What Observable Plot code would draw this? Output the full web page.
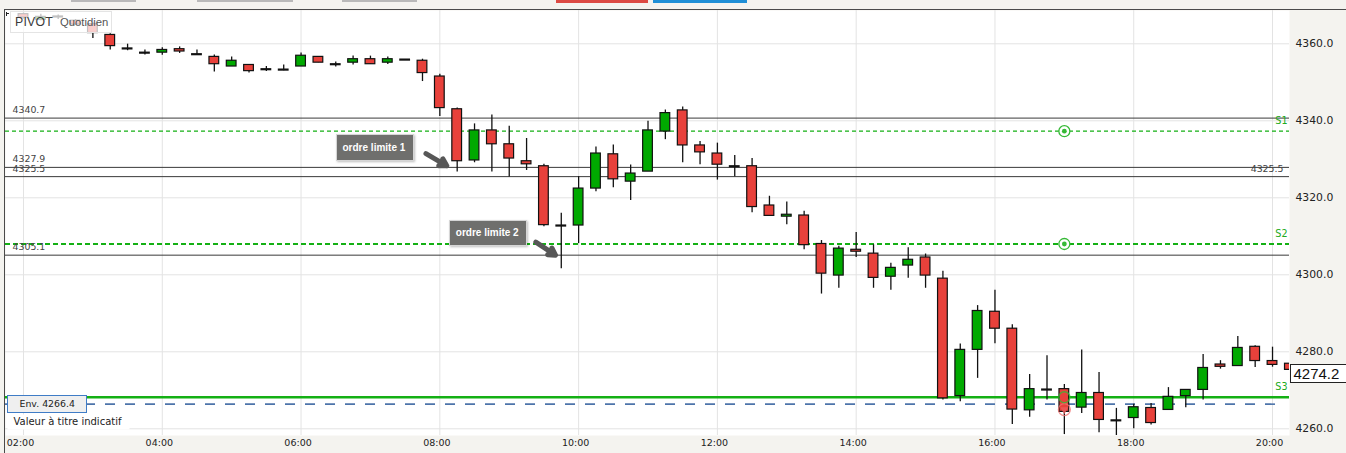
<!DOCTYPE html>
<html><head><meta charset="utf-8">
<script src="https://cdn.jsdelivr.net/npm/d3@7"></script>
<script src="https://cdn.jsdelivr.net/npm/@observablehq/plot@0.6"></script>
<style>
html,body{margin:0;padding:0;background:#f4f3ef;}
#wrap{position:relative;width:1346px;height:453px;overflow:hidden;background:#f4f3ef;}
#wrap svg{position:absolute;left:0;top:0;}
.bar{position:absolute;top:0;height:2px;background:#b9b9b9;}
.topline{position:absolute;left:4px;right:0;top:9px;height:1px;background:#4a4a4a;}
.leftline{position:absolute;left:4px;top:9px;bottom:0;width:1px;background:#4a4a4a;}
#legend{position:absolute;left:10px;top:11px;width:102px;height:22px;box-sizing:border-box;
  background:rgba(255,255,255,0.74);border:1px solid #e4e4e4;
  font-family:"Liberation Sans",Arial,sans-serif;line-height:20px;white-space:nowrap;}
#legend .p{position:absolute;left:4px;top:0;font-size:12.3px;color:#3a3a3a;letter-spacing:0.2px;}
#legend .q{position:absolute;left:49px;top:0;font-size:11.3px;color:#555;}
.flag{position:absolute;left:6px;top:12px;width:1px;height:4px;background:#222;}
.flag2{position:absolute;left:6px;top:13px;width:3px;height:1px;background:#222;}
</style></head>
<body>
<div id="wrap">
  <div class="bar" style="left:71px;width:65px"></div>
  <div class="bar" style="left:197px;width:96px"></div>
  <div class="bar" style="left:342px;width:75px"></div>
  <div class="bar" style="left:556px;width:92px;height:3px;background:#dc4a43"></div>
  <div class="bar" style="left:653px;width:94px;height:3px;background:#1f8fd6"></div>
</div>
<script>
// ---- data ----
const times = ["02:00","02:15","02:30","02:45","03:00","03:15","03:30","03:45",
"04:00","04:15","04:30","04:45","05:00","05:15","05:30","05:45",
"06:00","06:15","06:30","06:45","07:00","07:15","07:30","07:45",
"08:00","08:15","08:30","08:45","09:00","09:15","09:30","09:45",
"10:00","10:15","10:30","10:45","11:00","11:15","11:30","11:45",
"12:00","12:15","12:30","12:45","13:00","13:15","13:30","13:45",
"14:00","14:15","14:30","14:45","15:00","15:15","15:30","15:45",
"16:00","16:15","16:30","16:45","17:00","17:15","17:30","17:45",
"18:00","18:15","18:30","18:45","19:00","19:15","19:30","19:45",
"20:00","20:15"];
const opens = [4367.7,4366.2,4367.1,4366.0,4365.1,4362.3,4358.8,4357.7,
4357.7,4358.6,4357.3,4356.6,4354.1,4354.5,4353.4,4353.3,
4354.1,4356.6,4354.7,4355.1,4356.0,4355.1,4355.9,4355.6,
4351.5,4343.0,4329.7,4337.5,4333.9,4329.5,4328.2,4312.8,
4312.8,4322.4,4331.3,4324.2,4326.8,4337.2,4342.7,4333.6,
4331.5,4328.2,4328.2,4318.0,4315.1,4315.4,4308.0,4299.8,
4306.5,4305.5,4299.5,4302.4,4304.5,4299.0,4268.5,4280.5,
4290.4,4286.0,4264.8,4270.2,4270.3,4265.5,4269.3,4262.2,
4262.8,4265.4,4264.9,4268.5,4270.1,4276.7,4276.3,4281.3,
4277.6,4276.9];
const highs = [4368.0,4367.7,4367.5,4366.3,4365.5,4362.6,4359.9,4358.4,
4359.0,4359.2,4358.4,4357.1,4356.6,4354.5,4354.1,4354.5,
4357.6,4356.6,4355.3,4356.8,4356.8,4356.6,4355.9,4356.0,
4352.1,4343.3,4339.2,4341.5,4338.6,4335.4,4328.7,4316.0,
4325.5,4333.2,4333.7,4328.5,4339.9,4342.8,4343.6,4334.6,
4334.2,4331.0,4330.2,4320.4,4318.9,4316.5,4308.9,4307.4,
4311.0,4307.8,4303.0,4307.0,4305.4,4300.9,4282.0,4292.0,
4296.0,4287.0,4274.1,4279.0,4271.5,4280.5,4274.6,4265.3,
4266.4,4266.6,4270.7,4270.1,4279.3,4277.7,4284.0,4281.6,
4281.2,4277.2];
const lows = [4366.4,4366.0,4366.3,4364.8,4361.4,4358.4,4358.2,4357.1,
4357.0,4357.5,4357.0,4352.7,4354.1,4352.4,4352.8,4353.0,
4354.1,4355.1,4354.0,4354.5,4354.7,4354.6,4355.9,4350.2,
4341.1,4326.7,4329.1,4326.7,4325.4,4327.1,4312.5,4301.6,
4308.1,4321.6,4322.6,4319.3,4326.8,4335.1,4329.1,4328.6,
4324.6,4325.5,4316.1,4315.3,4313.0,4306.5,4295.0,4296.5,
4304.5,4296.5,4296.0,4299.1,4296.5,4267.5,4267.0,4273.1,
4282.1,4261.1,4263.0,4267.5,4258.5,4264.0,4259.0,4257.9,
4260.0,4261.0,4264.9,4265.5,4267.5,4275.5,4276.3,4275.9,
4276.0,4275.3];
const closes = [4366.8,4367.0,4367.1,4365.0,4362.8,4359.4,4358.8,4357.7,
4358.4,4358.0,4357.3,4354.7,4355.6,4352.9,4353.4,4353.3,
4356.9,4355.1,4354.7,4356.0,4354.7,4356.0,4355.9,4352.4,
4343.3,4329.5,4337.5,4333.9,4330.2,4328.7,4312.9,4312.8,
4322.4,4331.5,4324.8,4326.3,4337.5,4342.0,4333.6,4331.8,
4328.6,4328.2,4317.6,4315.3,4315.6,4307.7,4300.3,4306.8,
4306.0,4299.2,4301.8,4303.9,4299.8,4267.9,4280.5,4290.6,
4286.0,4265.0,4270.3,4270.2,4264.4,4269.3,4262.3,4262.2,
4265.6,4261.5,4268.3,4270.1,4275.8,4276.1,4281.0,4277.6,
4276.6,4275.3];

const pivotLevels = [4340.7, 4327.9, 4325.5, 4305.1];
const pivotRightLabels = [4325.5];
const supportNames = ["S1", "S2", "S3"];
const supportValues = [4337.3, 4308.0, 4268.2];
const envValue = 4266.4;
const lastPrice = 4274.2;
const yTicks = [4260, 4280, 4300, 4320, 4340, 4360];
const xTicks = ["02:00","04:00","06:00","08:00","10:00","12:00","14:00","16:00","18:00","20:00"];
const markerTime = "17:00";
const sellMarkerPrice = 4265.0;
const annLabels = ["ordre limite 1", "ordre limite 2"];
const annTextTime = ["07:03", "08:41"];
const annTextPrice = [4333.1, 4310.9];
const annFromTime = ["07:48", "09:23"];
const annFromPrice = [4331.5, 4308.5];
const annToTime = ["08:06", "09:40"];
const annToPrice = [4328.3, 4305.1];
const footNote = "Valeur à titre indicatif";

// ---- build ----
const hr = s => { const [h, m] = s.split(":").map(Number); return h + m / 60; };
const candles = times.map((t, i) => ({t: hr(t), open: opens[i], high: highs[i], low: lows[i], close: closes[i]}));
const isDoji = d => Math.abs(d.close - d.open) < 0.25;
const bodies = candles.filter(d => !isDoji(d));
const dojis = candles.filter(isDoji);
const supports = supportNames.map((n, i) => ({name: n, value: supportValues[i]}));
const anns = annLabels.map((l, i) => ({label: l, tx: hr(annTextTime[i]), ty: annTextPrice[i],
  x1: hr(annFromTime[i]), y1: annFromPrice[i], x2: hr(annToTime[i]), y2: annToPrice[i]}));
const mT = hr(markerTime);

const RED = "#e8413b", GREEN = "#00a900", SGREEN = "#14b014";
const bw = 0.07, dw = 0.078;

const chart = Plot.plot({
  width: 1346, height: 453,
  marginLeft: 5, marginRight: 57, marginTop: 10, marginBottom: 18,
  style: {background: "transparent", fontFamily: "'DejaVu Sans', sans-serif", fontSize: "10.8px", color: "#222", overflow: "visible"},
  x: {domain: [1.7406, 20.2447], axis: null},
  y: {domain: [4258.26, 4368.65], axis: null},
  marks: [
    Plot.frame({fill: "white", stroke: null}),
    Plot.ruleX(xTicks.map(hr), {stroke: "#e3e3e3"}),
    Plot.ruleY(yTicks, {stroke: "#e3e3e3"}),
    Plot.ruleY(pivotLevels, {stroke: "#3a3a3a", strokeWidth: 1}),
    Plot.ruleY([supportValues[0]], {stroke: SGREEN, strokeWidth: 1.2, strokeDasharray: "4,3"}),
    Plot.ruleY([supportValues[1]], {stroke: SGREEN, strokeWidth: 2, strokeDasharray: "5,3"}),
    Plot.ruleY([envValue], {x1: 1.7406, x2: 20.05, stroke: "#4d74aa", strokeWidth: 1.6, strokeDasharray: "10,10"}),
    Plot.ruleY([supportValues[2]], {stroke: SGREEN, strokeWidth: 2.5}),
    // candles
    Plot.ruleX(candles, {x: "t", y1: "low", y2: "high", stroke: "#111", strokeWidth: 1.3, clip: true}),
    Plot.rect(bodies, {x1: d => d.t - bw, x2: d => d.t + bw, y1: "open", y2: "close",
      fill: d => d.close > d.open ? GREEN : RED, stroke: "#111", strokeWidth: 1.2, clip: true}),
    Plot.ruleY(dojis, {y: "open", x1: d => d.t - dw, x2: d => d.t + dw, stroke: "#111", strokeWidth: 2.2, clip: true}),
    // level labels
    Plot.text(pivotLevels, {y: d => d, text: d => d.toFixed(1), frameAnchor: "left", textAnchor: "start", dx: 7, dy: -8, fill: "#444", fontSize: 9.4}),
    Plot.text(pivotRightLabels, {y: d => d, text: d => d.toFixed(1), frameAnchor: "right", textAnchor: "end", dx: -6, dy: -8, fill: "#444", fontSize: 9.4}),
    Plot.text(supports, {y: "value", text: "name", frameAnchor: "right", textAnchor: "end", dx: -2, dy: -10.5, fill: "#20aa20", fontSize: 9.6}),
    // markers at 17:00
    Plot.dot([supportValues[0], supportValues[1]], {x: mT, y: d => d, r: 5.5, fill: "white", stroke: "#35b935", strokeWidth: 1.3}),
    Plot.dot([supportValues[0], supportValues[1]], {x: mT, y: d => d, r: 2.4, fill: "#35b935"}),
    Plot.dot([sellMarkerPrice], {x: mT, y: d => d, r: 6, stroke: "#f07272", strokeWidth: 1.2, strokeOpacity: 0.8}),
    Plot.dot([sellMarkerPrice], {x: mT, y: d => d, r: 3, symbol: "triangle", rotate: 180, fill: "#ea5a5a", fillOpacity: 0.85}),
    Plot.dot([supportValues[2]], {x: mT, y: d => d, r: 5.5, stroke: "#35b935", strokeWidth: 1.4, strokeOpacity: 0.8}),
    // annotations
    Plot.arrow(anns, {x1: "x1", y1: "y1", x2: "x2", y2: "y2", stroke: "#575757", strokeWidth: 5, headLength: 8}),
    Plot.text(anns, {x: "tx", y: "ty", text: "label", fill: "white", fontSize: 10, fontWeight: "bold", fontFamily: "'Liberation Sans',Arial,sans-serif"}),
    Plot.text([envValue], {y: d => d, text: d => "Env. " + d.toFixed(1), frameAnchor: "left", textAnchor: "start", dx: 14, fill: "#222", fontSize: 9.4}),
    Plot.text([footNote], {text: d => d, frameAnchor: "bottom-left", textAnchor: "start", dx: 8, dy: -10.5, fill: "#222", fontSize: 10}),
    // axes
    Plot.axisY(yTicks, {anchor: "right", tickSize: 0, tickPadding: 6, tickFormat: d => d.toFixed(1), fontSize: 10.8, fill: "#222"}),
    Plot.axisX(xTicks.map(hr), {anchor: "bottom", tickSize: 0, tickPadding: 3.5, tickFormat: d => String(d).padStart(2, "0") + ":00", fontSize: 9.5, dx: -3, fill: "#222"}),
    Plot.text([lastPrice], {y: d => d, text: d => d.toFixed(1), frameAnchor: "right", textAnchor: "start", dx: 4, fill: "#111", fontSize: 15, fontFamily: "'Liberation Sans Narrow','Liberation Sans',Arial,sans-serif"})
  ]
});

const wrap = document.getElementById("wrap");
wrap.append(chart);
const frameDivs = ['<div class="topline"></div>', '<div class="leftline"></div>',
  '<div id="legend"><span class="p">PIVOT</span><span class="q">Quotidien</span></div>',
  '<div class="flag"></div><div class="flag2"></div>'];
wrap.insertAdjacentHTML("beforeend", frameDivs.join(""));

// background boxes behind some labels
const boxSpec = {
  "ordre limite 1": {w: 77, h: 26, fill: "#6f6f6d", stroke: "#d6d6d6", shadow: true},
  "ordre limite 2": {w: 77, h: 25, fill: "#6f6f6d", stroke: "#d6d6d6", shadow: true},
  ["Env. " + envValue.toFixed(1)]: {w: 79, h: 17, x0: -13, fill: "#efefef", stroke: "#3f7cc6"},
  [footNote]: {w: 122, h: 15, x0: -7, fill: "#ffffff", stroke: "none"},
  [lastPrice.toFixed(1)]: {w: 58, h: 18, x0: -4, fill: "#ffffff", stroke: "#222"}
};
const sb = chart.getBoundingClientRect();
chart.querySelectorAll("text").forEach(t => {
  const spec = boxSpec[t.textContent];
  if (!spec) return;
  const b = t.getBoundingClientRect();
  const left = b.left - sb.left, cy = b.top - sb.top + b.height / 2;
  const x = spec.x0 !== undefined ? left + spec.x0 : left + b.width / 2 - spec.w / 2;
  const r = document.createElementNS("http://www.w3.org/2000/svg", "rect");
  r.setAttribute("x", Math.round(x) + 0.5);
  r.setAttribute("y", Math.round(cy - spec.h / 2) + 0.5);
  r.setAttribute("width", spec.w);
  r.setAttribute("height", spec.h);
  r.setAttribute("fill", spec.fill);
  r.setAttribute("stroke", spec.stroke);
  if (spec.shadow) r.setAttribute("style", "filter: drop-shadow(1px 1px 1px rgba(0,0,0,0.25))");
  const g = t.parentNode;
  g.parentNode.insertBefore(r, g);
});
</script>
</body></html>
